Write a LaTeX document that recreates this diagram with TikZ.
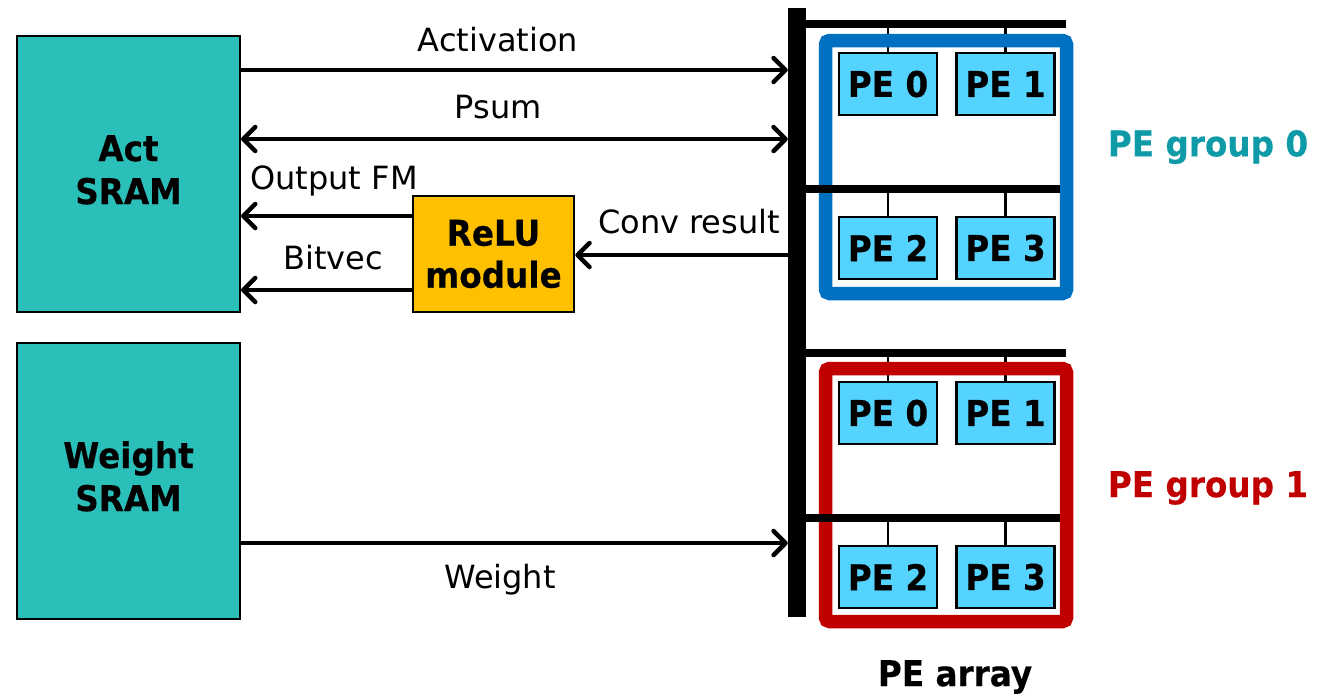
\documentclass[tikz,border=0pt]{standalone}
\usepackage{fontspec}
\setmainfont{DejaVu Sans}
\newfontfamily\hdr[FakeStretch=0.92, FakeBold=0.4]{DejaVu Sans Bold}
\usetikzlibrary{arrows.meta}

\definecolor{sramfill}{RGB}{43,191,186}
\definecolor{relufill}{RGB}{255,192,0}
\definecolor{pefill}{RGB}{85,211,255}
\definecolor{grpblue}{RGB}{0,112,192}
\definecolor{grpred}{RGB}{192,0,0}
\definecolor{grpteal}{RGB}{14,154,167}

\tikzset{
  lbl/.style={font=\fontsize{32}{36}\selectfont, inner sep=0pt},
  hlbl/.style={font=\hdr\fontsize{35.5}{43}\selectfont, inner sep=0pt, align=center},
  sram/.style={draw, line width=2pt, fill=sramfill, minimum width=223pt, minimum height=276pt,
    font=\hdr\fontsize{35.5}{43}\selectfont, align=center},
  relubox/.style={draw, line width=2.5pt, fill=relufill, minimum width=161pt, minimum height=116pt,
    font=\hdr\fontsize{35.5}{42}\selectfont, align=center, inner sep=0pt},
  pe/.style={draw, line width=2.5pt, fill=pefill, minimum width=98pt, minimum height=62pt,
    font=\hdr\fontsize{35.5}{40}\selectfont, inner sep=0pt},
  sig/.style={line width=4.5pt, -{Straight Barb[length=12pt,width=24pt,line cap=round,line join=round]}},
  sigboth/.style={line width=4.5pt, {Straight Barb[length=12pt,width=24pt,line cap=round,line join=round]}-{Straight Barb[length=12pt,width=24pt,line cap=round,line join=round]}},
  rail/.style={line width=8.5pt},
  stub/.style={line width=2.5pt},
  frame/.style={line width=13.5pt, rounded corners=4pt},
}

\begin{document}
\begin{tikzpicture}[x=1pt,y=-1pt]
\useasboundingbox (0,0) rectangle (1332,697);

% memories and ReLU
\node[sram] (act) at (128.5,174) {\raisebox{4pt}{\begin{tabular}{@{}c@{}}Act\\SRAM\end{tabular}}};
\node[sram] (wgt) at (128.5,481) {\raisebox{4pt}{\begin{tabular}{@{}c@{}}Weight\\SRAM\end{tabular}}};
\node[relubox] (relu) at (493.5,254) {ReLU\\module};

% shared vertical bus
\node[fill=black, minimum width=18pt, minimum height=609pt, inner sep=0pt] (bus) at (797,312.5) {};

% PE stubs from the row buses
\foreach \y/\t in {24/53, 189/217, 353/382, 518/546}{
  \draw[stub] (888,\y) -- (888,\t);
  \draw[stub] (1005.5,\y) -- (1005.5,\t);
}

% PE group frames
\draw[frame, grpblue] (825.5,40.5) rectangle (1066.5,293.5);
\draw[frame, grpred] (825.5,368.5) rectangle (1066.5,621.5);

% row buses
\draw[rail] (bus.east |- 0,24) -- (1066,24);
\draw[rail] (bus.east |- 0,189) -- (1060,189);
\draw[rail] (bus.east |- 0,353) -- (1066,353);
\draw[rail] (bus.east |- 0,518) -- (1060,518);

% processing elements
\node[pe] (a0) at (888,84) {PE 0};
\node[pe] (a1) at (1005.5,84) {PE 1};
\node[pe] (a2) at (888,248) {PE 2};
\node[pe] (a3) at (1005.5,248) {PE 3};
\node[pe] (b0) at (888,413) {PE 0};
\node[pe] (b1) at (1005.5,413) {PE 1};
\node[pe] (b2) at (888,577) {PE 2};
\node[pe] (b3) at (1005.5,577) {PE 3};

% signals
\draw[sig] (act.east |- 0,70) -- (bus.west |- 0,70);
\draw[sigboth] (act.east |- 0,139) -- (bus.west |- 0,139);
\draw[sig] (relu.west |- 0,216) -- (act.east |- 0,216);
\draw[sig] (relu.west |- 0,290) -- (act.east |- 0,290);
\draw[sig] (bus.west |- 0,255) -- (relu.east |- 0,255);
\draw[sig] (wgt.east |- 0,543) -- (bus.west |- 0,543);

% signal labels
\node[lbl] (lact) at (498,40) {Activation};
\node[lbl] (lpsum) at (498,107) {Psum};
\node[lbl] (lofm) at (334,181) {Output FM};
\node[lbl] (lbit) at (333,258) {Bitvec};
\node[lbl] (lconv) at (689,222) {Conv result};
\node[lbl] (lwgt) at (500,580) {Weight};

% group and array labels
\node[hlbl, text=grpteal] (g0) at (1208,147) {PE group 0};
\node[hlbl, text=grpred] (g1) at (1208,488) {PE group 1};
\node[hlbl] (arr) at (955,677) {PE array};
\end{tikzpicture}
\end{document}
